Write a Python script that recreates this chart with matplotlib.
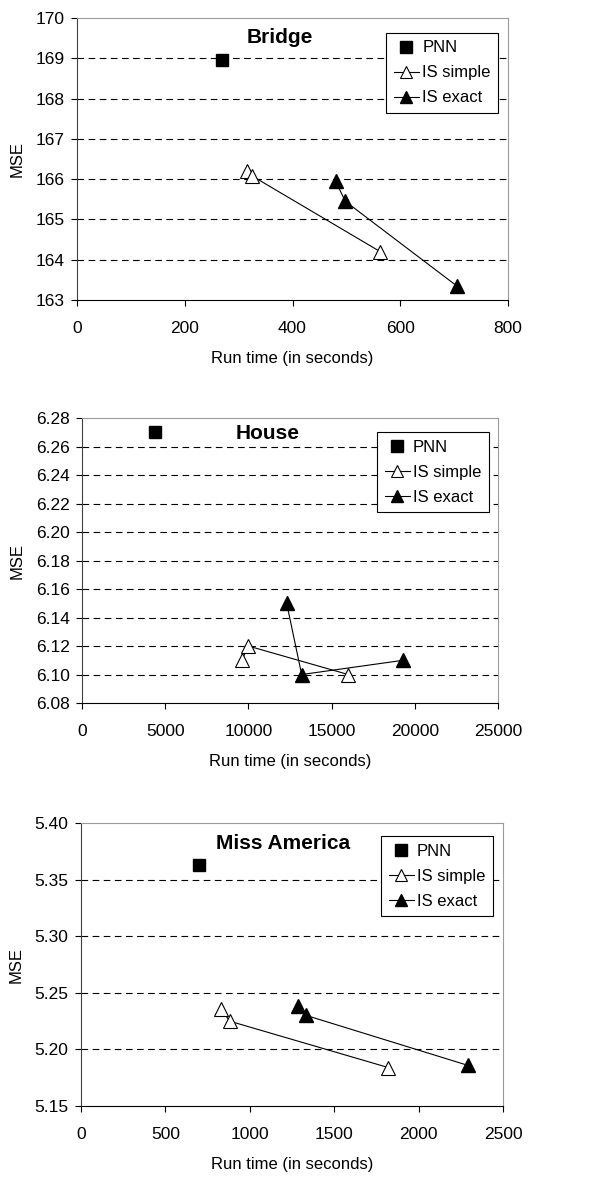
import matplotlib.pyplot as plt
from matplotlib.ticker import FormatStrFormatter

plt.rcParams['font.family'] = ['Liberation Sans', 'DejaVu Sans']

# Bridge
bridge_pnn_x = [270]
bridge_pnn_y = [168.95]
bridge_simple_x = [315, 325, 563]
bridge_simple_y = [166.2, 166.08, 164.2]
bridge_exact_x = [480, 498, 705]
bridge_exact_y = [165.95, 165.45, 163.35]

# House
house_pnn_x = [4400]
house_pnn_y = [6.270]
house_simple_x = [9600, 10000, 16000]
house_simple_y = [6.110, 6.120, 6.100]
house_exact_x = [12300, 13200, 19300]
house_exact_y = [6.150, 6.100, 6.110]

# Miss America
miss_pnn_x = [700]
miss_pnn_y = [5.363]
miss_simple_x = [830, 880, 1820]
miss_simple_y = [5.236, 5.225, 5.184]
miss_exact_x = [1285, 1335, 2290]
miss_exact_y = [5.238, 5.230, 5.186]

fig = plt.figure(figsize=(6.04, 11.79), dpi=100)

panels = [
    dict(rect=[0.1275, 0.7455, 0.7136, 0.2392], title='Bridge', tpos=(0.47, 0.93),
         lpos=(0.977, 0.947), xlim=(0, 800), xt=range(0, 801, 200),
         ylim=(163, 170), yt=range(163, 171), fmt='%d',
         pnn=(bridge_pnn_x, bridge_pnn_y), simple=(bridge_simple_x, bridge_simple_y),
         exact=(bridge_exact_x, bridge_exact_y)),
    dict(rect=[0.1358, 0.4037, 0.6887, 0.2417], title='House', tpos=(0.445, 0.947),
         lpos=(0.978, 0.951), xlim=(0, 25000), xt=range(0, 25001, 5000),
         ylim=(6.08, 6.28), yt=[6.08 + 0.02 * i for i in range(11)], fmt='%.2f',
         pnn=(house_pnn_x, house_pnn_y), simple=(house_simple_x, house_simple_y),
         exact=(house_exact_x, house_exact_y)),
    dict(rect=[0.1341, 0.0619, 0.6987, 0.2400], title='Miss America', tpos=(0.479, 0.929),
         lpos=(0.976, 0.954), xlim=(0, 2500), xt=range(0, 2501, 500),
         ylim=(5.15, 5.40), yt=[5.15 + 0.05 * i for i in range(6)], fmt='%.2f',
         pnn=(miss_pnn_x, miss_pnn_y), simple=(miss_simple_x, miss_simple_y),
         exact=(miss_exact_x, miss_exact_y)),
]

for p in panels:
    ax = fig.add_axes(p['rect'])
    ax.set_xlim(*p['xlim'])
    ax.set_ylim(*p['ylim'])
    ax.set_xticks(list(p['xt']))
    ax.set_yticks(list(p['yt']))
    ax.yaxis.set_major_formatter(FormatStrFormatter(p['fmt']))
    ax.tick_params(direction='out', length=4, width=0.8, labelsize=12.5, colors='black')
    ax.tick_params(axis='x', pad=11)
    ax.tick_params(axis='y', pad=5)
    for yv in p['yt'][1:-1]:
        ax.axhline(yv, color='black', lw=0.8, dashes=(6, 4), zorder=1)
    for s in ['top', 'right']:
        ax.spines[s].set_color('#9a9a9a')
    ax.spines['left'].set_color('#404040')
    ax.spines['bottom'].set_color('black')

    ax.plot(*p['pnn'], ls='none', marker='s', ms=9, color='black', label='PNN', zorder=3)
    ax.plot(*p['simple'], color='black', lw=0.8, marker='^', ms=10, mfc='white',
            mec='black', mew=0.8, label='IS simple', zorder=3)
    ax.plot(*p['exact'], color='black', lw=0.8, marker='^', ms=10, mfc='black',
            mec='black', label='IS exact', zorder=3)

    ax.text(p['tpos'][0], p['tpos'][1], p['title'], transform=ax.transAxes,
            ha='center', va='center', fontsize=15, fontweight='bold')
    ax.set_xlabel('Run time (in seconds)', fontsize=12, labelpad=11)
    ax.set_ylabel('MSE', fontsize=12, labelpad=8)

    leg = ax.legend(loc='upper right', bbox_to_anchor=p['lpos'], borderaxespad=0,
                    fancybox=False, edgecolor='black', framealpha=1, fontsize=12,
                    handlelength=1.5, handletextpad=0.2, borderpad=0.45,
                    labelspacing=0.6, markerscale=0.9)
    leg.get_frame().set_linewidth(0.8)

fig.savefig('out.png', dpi=100)
